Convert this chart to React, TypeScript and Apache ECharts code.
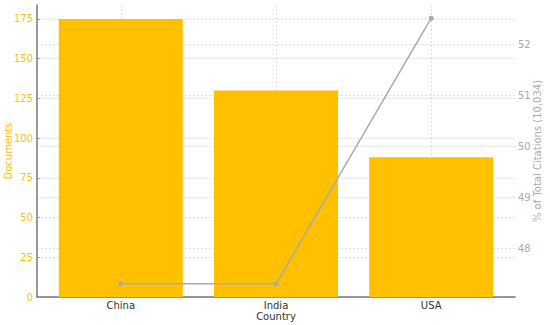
import React, { useEffect, useRef } from "react";
import * as echarts from "echarts";

const categories = ["China", "India", "USA"];
const documents = [175, 130, 88];
const citationPct = [47.3, 47.3, 52.52];
const leftTicks = [0, 25, 50, 75, 100, 125, 150, 175];
const rightTicks = [48, 49, 50, 51, 52];
const catTicks = [0, 1, 2];

const FONT = "DejaVu Sans";
const GOLD = "#FFC000";
const GRAY = "#aaaaaa";

export default function App() {
  const ref = useRef<HTMLDivElement>(null);
  useEffect(() => {
    if (!ref.current) return;
    const chart = echarts.init(ref.current, null, { renderer: "svg" });
    const gridLine = { show: true, lineStyle: { color: "#dddddd", type: [2, 2] as any, width: 1 } };
    chart.setOption({
      animation: false,
      textStyle: { fontFamily: FONT },
      grid: { left: 37, right: 35, top: 5, bottom: 28, containLabel: false, outerBoundsMode: "none" },
      xAxis: {
        type: "value",
        min: -0.54,
        max: 2.54,
        name: "Country",
        nameLocation: "middle",
        nameGap: 14,
        nameMoveOverlap: false,
        nameTextStyle: { color: "#333", fontSize: 10, fontFamily: FONT },
        axisLine: { show: true, onZero: false, lineStyle: { color: "#777", width: 1.5 } },
        axisTick: { show: true, inside: true, customValues: catTicks, length: 3, lineStyle: { color: "#999" } },
        axisLabel: {
          customValues: catTicks,
          formatter: (v: number) => categories[Math.round(v)] ?? "",
          color: "#333",
          fontSize: 10,
          fontFamily: FONT,
          margin: 3,
        },
        splitLine: gridLine,
      },
      yAxis: [
        {
          type: "value",
          min: 0,
          max: 183.75,
          name: "Documents",
          nameLocation: "middle",
          nameGap: 24,
          nameRotate: 90,
          nameMoveOverlap: false,
          nameTextStyle: { color: GOLD, fontSize: 10, fontFamily: FONT },
          axisLine: { show: true, onZero: false, lineStyle: { color: "#777", width: 1.5 } },
          axisTick: { show: true, inside: true, customValues: leftTicks, length: 3, lineStyle: { color: "#999" } },
          axisLabel: { customValues: leftTicks, color: GOLD, fontSize: 10, fontFamily: FONT, margin: 4 },
          splitLine: gridLine,
        },
        {
          type: "value",
          min: 47.04,
          max: 52.78,
          position: "right",
          name: "% of Total Citations (10,034)",
          nameLocation: "middle",
          nameGap: 17,
          nameRotate: 90,
          nameMoveOverlap: false,
          nameTextStyle: { color: GRAY, fontSize: 10, fontFamily: FONT },
          axisLine: { show: false },
          axisTick: { show: true, inside: true, customValues: rightTicks, length: 4, lineStyle: { color: "#888" } },
          axisLabel: { customValues: rightTicks, color: GRAY, fontSize: 10, fontFamily: FONT, margin: 3 },
          splitLine: gridLine,
        },
      ],
      series: [
        {
          type: "bar",
          yAxisIndex: 0,
          barWidth: 124,
          itemStyle: { color: GOLD },
          data: documents.map((v, i) => [i, v]),
        },
        {
          type: "line",
          yAxisIndex: 1,
          symbol: "circle",
          symbolSize: 5,
          lineStyle: { color: GRAY, width: 1.5 },
          itemStyle: { color: GRAY },
          data: citationPct.map((v, i) => [i, v]),
        },
      ],
    });
    return () => chart.dispose();
  }, []);
  return (
    <div
      ref={ref}
      style={{ position: "fixed", left: 0, top: 0, width: 550, height: 325, background: "#fff" }}
    />
  );
}
